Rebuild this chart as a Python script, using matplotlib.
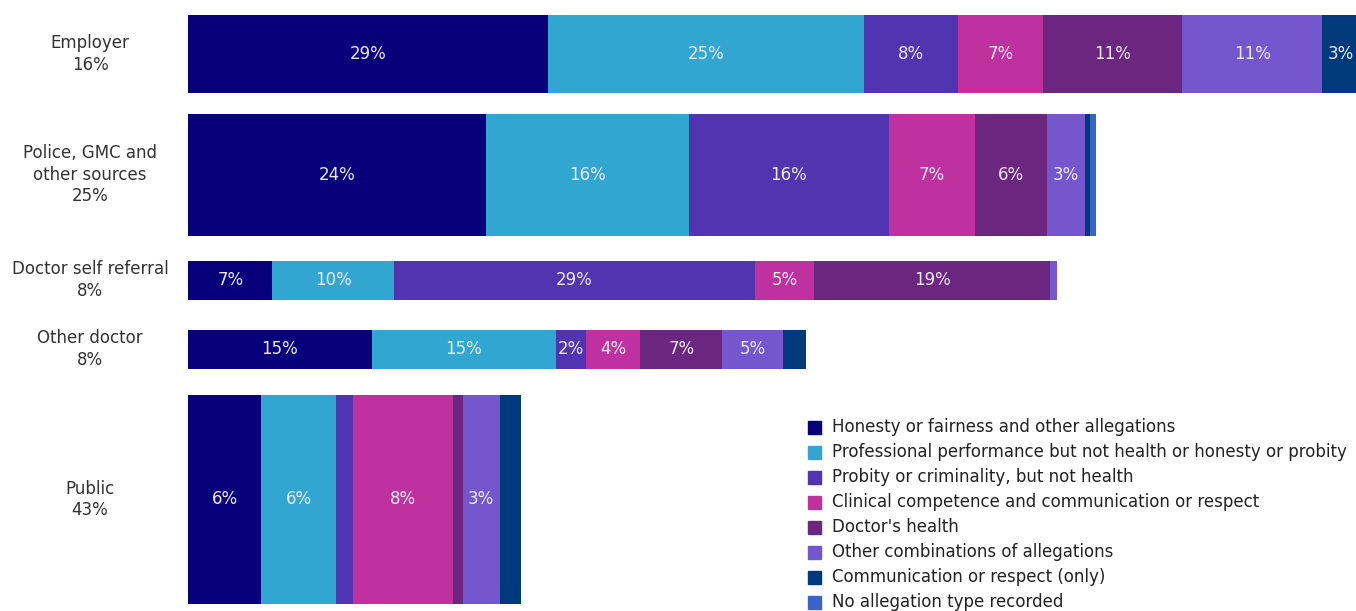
import matplotlib
matplotlib.use("Agg")
import matplotlib.pyplot as plt
from matplotlib.patches import Rectangle

# ---------------- data ----------------
sources = ["Employer", "Police, GMC and\nother sources", "Doctor self referral",
           "Other doctor", "Public"]
source_share = [16, 25, 8, 8, 43]

allegation_types = [
    "Honesty or fairness and other allegations",
    "Professional performance but not health or honesty or probity",
    "Probity or criminality, but not health",
    "Clinical competence and communication or respect",
    "Doctor's health",
    "Other combinations of allegations",
    "Communication or respect (only)",
    "No allegation type recorded",
]
colors = ["#07007a", "#31a6d0", "#5034b0", "#c031a0",
          "#6b2680", "#7457cc", "#003a7c", "#3a62c8"]

# values per source (percent), in the order of allegation_types
employer      = [29.0, 25.4, 7.6, 6.8, 11.2, 11.3, 3.0, 0.0]
police_gmc    = [24.0, 16.3, 16.1, 6.9, 5.8, 3.1, 0.4, 0.5]
self_referral = [6.8, 9.8, 29.0, 4.8, 19.0, 0.5, 0.0, 0.0]
other_doctor  = [14.8, 14.8, 2.4, 4.4, 6.6, 4.9, 1.8, 0.0]
public        = [5.9, 6.0, 1.4, 8.0, 0.8, 3.0, 1.7, 0.0]
rows = [employer, police_gmc, self_referral, other_doctor, public]

# ---------------- figure ----------------
W, H = 1356, 611
FS = 12
fig = plt.figure(figsize=(W / 100, H / 100), dpi=100)
ax = fig.add_axes([188 / W, 7 / H, 1168 / W, 589 / H])

gaps = [4.3, 5.1, 6.2, 5.3, 0.0]   # vertical spacing between rows (layout)
y = 0.0
centers = []
for share, vals, g in zip(source_share, rows, gaps):
    left = 0.0
    for v, c in zip(vals, colors):
        if v > 0:
            ax.barh(y + share / 2, v, height=share, left=left, color=c,
                    edgecolor="none", linewidth=0, clip_on=False)
            if v >= 2.0:
                ax.text(left + v / 2, y + share / 2, f"{int(round(v))}%",
                        ha="center", va="center", color="#ecEAF6",
                        fontsize=FS, clip_on=False)
        left += v
    centers.append(y + share / 2)
    y += share + g

ax.set_xlim(0, 94.0)
ax.set_ylim(y, 0)
ax.axis("off")

# category labels
for name, share, cy in zip(sources, source_share, centers):
    ax.text(-98 / 12.43, cy, f"{name}\n{share}%", ha="center", va="center",
            color="#333333", fontsize=FS, linespacing=1.25, clip_on=False)

# legend (drawn manually in figure pixels)
for i, (name, c) in enumerate(zip(allegation_types, colors)):
    cy = 427 + 25 * i
    fig.patches.append(Rectangle((808 / W, (H - cy - 6.5) / H), 13 / W, 13 / H,
                                 transform=fig.transFigure, color=c))
    fig.text(832 / W, (H - cy) / H, name, ha="left", va="center",
             color="#222222", fontsize=FS)

fig.savefig("out.png", dpi=100)
